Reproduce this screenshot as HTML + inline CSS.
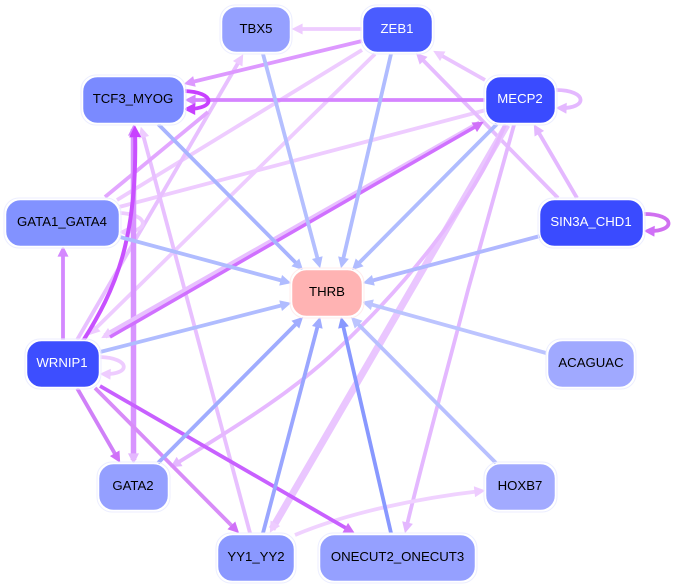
<!DOCTYPE html>
<html><head><meta charset="utf-8"><style>
html,body{margin:0;padding:0;background:#fff;width:673px;height:587px;overflow:hidden}
svg{display:block}
text{font-family:"Liberation Sans",sans-serif;font-size:13.200px;text-anchor:middle}
path{fill:none;stroke-linecap:butt}
.n{stroke:#fff;stroke-width:1.5}
.o{fill:none;stroke:#eceeff;stroke-width:1}
</style></head><body>
<svg width="673" height="587" viewBox="0 0 673 587" xmlns="http://www.w3.org/2000/svg">
<defs>
<marker id="a" viewBox="0 0 10 10" refX="6" refY="5" markerWidth="12" markerHeight="11" markerUnits="userSpaceOnUse" orient="auto"><path d="M0 0L10 5L0 10Z" style="fill:#eeccff;stroke:none"/></marker>
<marker id="b" viewBox="0 0 10 10" refX="6" refY="5" markerWidth="12" markerHeight="11" markerUnits="userSpaceOnUse" orient="auto"><path d="M0 0L10 5L0 10Z" style="fill:#dd99ff;stroke:none"/></marker>
<marker id="c" viewBox="0 0 10 10" refX="6" refY="5" markerWidth="12" markerHeight="11" markerUnits="userSpaceOnUse" orient="auto"><path d="M0 0L10 5L0 10Z" style="fill:#d488ff;stroke:none"/></marker>
<marker id="d" viewBox="0 0 10 10" refX="6" refY="5" markerWidth="13" markerHeight="12" markerUnits="userSpaceOnUse" orient="auto"><path d="M0 0L10 5L0 10Z" style="fill:#c840ff;stroke:none"/></marker>
<marker id="e" viewBox="0 0 10 10" refX="6" refY="5" markerWidth="12" markerHeight="11" markerUnits="userSpaceOnUse" orient="auto"><path d="M0 0L10 5L0 10Z" style="fill:#e4b8ff;stroke:none"/></marker>
<marker id="f" viewBox="0 0 10 10" refX="6" refY="5" markerWidth="12" markerHeight="11" markerUnits="userSpaceOnUse" orient="auto"><path d="M0 0L10 5L0 10Z" style="fill:#b0bcff;stroke:none"/></marker>
<marker id="g" viewBox="0 0 10 10" refX="6" refY="5" markerWidth="12" markerHeight="11" markerUnits="userSpaceOnUse" orient="auto"><path d="M0 0L10 5L0 10Z" style="fill:#bcc4ff;stroke:none"/></marker>
<marker id="h" viewBox="0 0 10 10" refX="6" refY="5" markerWidth="12" markerHeight="11" markerUnits="userSpaceOnUse" orient="auto"><path d="M0 0L10 5L0 10Z" style="fill:#a0acff;stroke:none"/></marker>
<marker id="i" viewBox="0 0 10 10" refX="6" refY="5" markerWidth="12" markerHeight="11" markerUnits="userSpaceOnUse" orient="auto"><path d="M0 0L10 5L0 10Z" style="fill:#8898ff;stroke:none"/></marker>
<marker id="j" viewBox="0 0 10 10" refX="6" refY="5" markerWidth="12" markerHeight="11" markerUnits="userSpaceOnUse" orient="auto"><path d="M0 0L10 5L0 10Z" style="fill:#d070f8;stroke:none"/></marker>
</defs>

<!-- pale purple edges -->
<path d="M363 29L296 29" stroke="#eeccff" stroke-width="3.800" marker-end="url(#a)"/>
<path d="M362 50L117 200" stroke="#eeccff" stroke-width="3.800"/>
<path d="M375 54L92 332" stroke="#eeccff" stroke-width="3.800" marker-end="url(#a)"/>
<path d="M486 110L119 207" stroke="#eeccff" stroke-width="3.800"/>
<path d="M77 340L241 58" stroke="#e8c0ff" stroke-width="3.800" marker-end="url(#a)"/>
<path d="M250 533L142 131" stroke="#e8c0ff" stroke-width="3.800" marker-end="url(#a)"/>
<path d="M485 80L437 53" stroke="#eac4ff" stroke-width="3.800" marker-end="url(#a)"/>
<path d="M558 198L419 56" stroke="#e6bcff" stroke-width="3.800" marker-end="url(#e)"/>
<path d="M577 198L536 128" stroke="#e4b8ff" stroke-width="3.800" marker-end="url(#e)"/>
<path d="M507 125L272 529" stroke="#eac6ff" stroke-width="7" marker-end="url(#a)"/>
<path d="M505 125C470 210 400 290 340 347C290 395 230 430 174 465" stroke="#e6b8ff" stroke-width="3.800" marker-end="url(#e)"/>
<path d="M514 125L468 290C450 360 425 450 406 529" stroke="#e4b8ff" stroke-width="3.800" marker-end="url(#e)"/>
<path d="M295 535C350 512 420 498 481 491" stroke="#f0d2ff" stroke-width="3.800" marker-end="url(#a)"/>
<path d="M119 213C150 214 150 232 123 232" stroke="#eeccff" stroke-width="3.800" marker-end="url(#a)"/>
<path d="M100 357C131 358 131 375 104 374" stroke="#eeccff" stroke-width="3.800" marker-end="url(#a)"/>
<path d="M556 90C588 90 588 109 560 108" stroke="#e4b8ff" stroke-width="3.800" marker-end="url(#e)"/>
<!-- purple edges -->
<path d="M362 41L188 83" stroke="#dd99ff" stroke-width="3.800" marker-end="url(#b)"/>
<path d="M486 100L189 100" stroke="#d584ff" stroke-width="3.800" marker-end="url(#c)"/>
<path d="M105 197L208 112" stroke="#e2a6ff" stroke-width="3.800"/>
<path d="M133.500 129L133.500 460" stroke="#d894ff" stroke-width="5.500" marker-end="url(#e)"/>
<path d="M133.500 460L133.500 129" stroke="none" stroke-width="4" marker-end="url(#c)"/>
<path d="M83 341C115 290 138 240 135 130" stroke="#c850ff" stroke-width="4" marker-end="url(#d)"/>
<path d="M480 123L105 336" stroke="#e8c0ff" stroke-width="5.500" marker-end="url(#a)"/>
<path d="M110 337L480 124" stroke="#d070ff" stroke-width="3.500" marker-end="url(#j)"/>
<path d="M63 340L63 250" stroke="#d488ff" stroke-width="3.800" marker-end="url(#c)"/>
<path d="M77 388L118 459" stroke="#d080f8" stroke-width="3.800" marker-end="url(#j)"/>
<path d="M95 388L236 530" stroke="#d88cf8" stroke-width="3.800" marker-end="url(#j)"/>
<path d="M100 386L351 531" stroke="#c860ff" stroke-width="3.800" marker-end="url(#j)"/>
<path d="M184 91C216 92 216 109 188 109" stroke="#c840ff" stroke-width="3.800" marker-end="url(#d)"/>
<path d="M644 214C676 214 676 232 648 231" stroke="#d070f0" stroke-width="3.800" marker-end="url(#j)"/>
<!-- blue edges to THRB -->
<path d="M391 54L342 264" stroke="#b0bcff" stroke-width="3.800" marker-end="url(#f)"/>
<path d="M263 54L319 264" stroke="#b4bfff" stroke-width="3.800" marker-end="url(#f)"/>
<path d="M158 124L300 267" stroke="#a8b4ff" stroke-width="3.800" marker-end="url(#f)"/>
<path d="M120 237L287 282" stroke="#b0bcff" stroke-width="3.800" marker-end="url(#f)"/>
<path d="M497 124L355 267" stroke="#b0bcff" stroke-width="3.800" marker-end="url(#f)"/>
<path d="M540 236L367 282" stroke="#b0b8ff" stroke-width="3.800" marker-end="url(#f)"/>
<path d="M100 352L287 304" stroke="#b0bcff" stroke-width="3.800" marker-end="url(#f)"/>
<path d="M546 353L366 303" stroke="#bcc4ff" stroke-width="3.800" marker-end="url(#g)"/>
<path d="M496 463L354 320" stroke="#b8c0ff" stroke-width="3.800" marker-end="url(#g)"/>
<path d="M158 463L300 320" stroke="#a0acff" stroke-width="3.800" marker-end="url(#h)"/>
<path d="M263 533L319 321" stroke="#9aa6ff" stroke-width="3.800" marker-end="url(#h)"/>
<path d="M391 533L342 321" stroke="#8898ff" stroke-width="3.800" marker-end="url(#i)"/>

<!-- nodes -->
<rect class="o" x="220" y="5" width="72" height="49" rx="15"/><rect class="n" x="221.500" y="6.500" width="69" height="46" rx="15" fill="#95a0ff"/><text x="256" y="33" fill="#000">TBX5</text>
<rect class="o" x="361" y="5" width="73" height="49" rx="15"/><rect class="n" x="362.500" y="6.500" width="70" height="46" rx="15" fill="#4a5cff"/><text x="397" y="33" fill="#fff">ZEB1</text>
<rect class="o" x="81" y="75" width="105" height="50" rx="15"/><rect class="n" x="82.500" y="76.500" width="102" height="47" rx="15" fill="#7a8aff"/><text x="133" y="103" fill="#000">TCF3_MYOG</text>
<rect class="o" x="484" y="75" width="73" height="50" rx="15"/><rect class="n" x="485.500" y="76.500" width="70" height="47" rx="15" fill="#3a4bff"/><text x="520" y="103" fill="#fff">MECP2</text>
<rect class="o" x="4" y="198" width="117" height="50" rx="15"/><rect class="n" x="5.500" y="199.500" width="114" height="47" rx="15" fill="#8292ff"/><text x="62" y="226" fill="#000">GATA1_GATA4</text>
<rect class="o" x="538" y="198" width="107" height="50" rx="15"/><rect class="n" x="539.500" y="199.500" width="104" height="47" rx="15" fill="#3a4bff"/><text x="591" y="226" fill="#fff">SIN3A_CHD1</text>
<rect class="o" x="290" y="268" width="74" height="50" rx="15" style="stroke:#ffecec"/><rect class="n" x="291.500" y="269.500" width="71" height="47" rx="15" fill="#ffb3b3"/><text x="327" y="296" fill="#000">THRB</text>
<rect class="o" x="25" y="339" width="76" height="50" rx="15"/><rect class="n" x="26.500" y="340.500" width="73" height="47" rx="15" fill="#3d4eff"/><text x="62" y="367" fill="#fff">WRNIP1</text>
<rect class="o" x="546" y="339" width="90" height="50" rx="15"/><rect class="n" x="547.500" y="340.500" width="87" height="47" rx="15" fill="#a0a9ff"/><text x="591" y="367" fill="#000">ACAGUAC</text>
<rect class="o" x="97" y="462" width="73" height="50" rx="15"/><rect class="n" x="98.500" y="463.500" width="70" height="47" rx="15" fill="#949fff"/><text x="133" y="490" fill="#000">GATA2</text>
<rect class="o" x="484" y="462" width="73" height="50" rx="15"/><rect class="n" x="485.500" y="463.500" width="70" height="47" rx="15" fill="#a2aaff"/><text x="520" y="490" fill="#000">HOXB7</text>
<rect class="o" x="216" y="533" width="80" height="50" rx="15"/><rect class="n" x="217.500" y="534.500" width="77" height="47" rx="15" fill="#8a98ff"/><text x="256" y="561" fill="#000">YY1_YY2</text>
<rect class="o" x="318" y="533" width="159" height="50" rx="15"/><rect class="n" x="319.500" y="534.500" width="156" height="47" rx="15" fill="#95a0ff"/><text x="397.500" y="561" fill="#000">ONECUT2_ONECUT3</text>
</svg>
</body></html>
